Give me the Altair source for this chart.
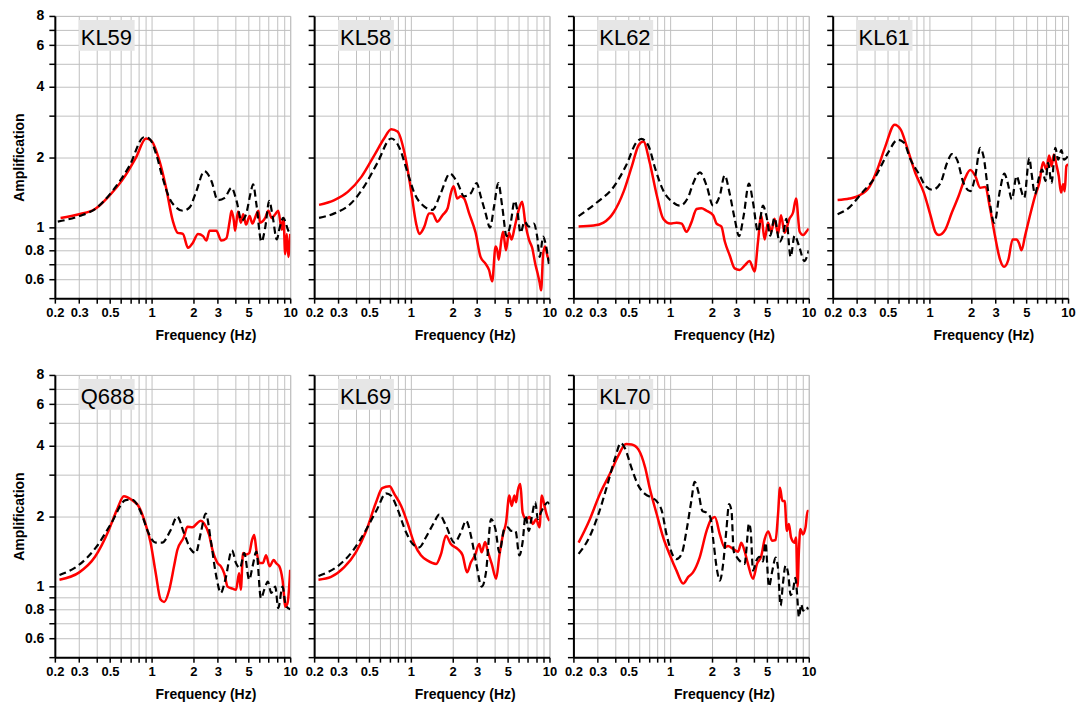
import json
import altair as alt
import pandas as pd

PANELS = ["KL59", "KL58", "KL62", "KL61", "Q688", "KL69", "KL70"]

# ---- KL59 ----
KL59_RED_F = [0.22, 0.30, 0.39, 0.49, 0.62, 0.77, 0.91, 1.0, 1.14, 1.27, 1.42, 1.54, 1.68, 1.83, 1.98,
              2.16, 2.35, 2.48, 2.62, 2.93, 3.18, 3.46, 3.66, 3.77, 3.92, 4.0, 4.2, 4.4, 4.58, 4.8,
              5.1, 5.33, 5.7, 5.9, 6.05, 6.6, 6.95, 7.35, 7.8, 8.2, 8.7, 8.95, 9.2, 9.45, 9.7, 10.0]
KL59_RED_A = [1.10, 1.14, 1.20, 1.36, 1.61, 1.99, 2.40, 2.34, 1.92, 1.48, 1.07, 0.95, 0.94, 0.82, 0.86,
              0.94, 0.92, 0.88, 0.97, 0.97, 0.88, 0.90, 1.07, 1.18, 1.07, 0.97, 1.17, 1.05, 1.14, 1.03,
              1.12, 1.04, 1.14, 1.18, 1.05, 1.10, 1.18, 1.10, 1.14, 1.18, 0.98, 1.10, 0.77, 0.94, 0.75, 0.94]
KL59_BLK_F = [0.21, 0.30, 0.39, 0.52, 0.69, 0.88, 0.96, 1.08, 1.20, 1.34, 1.50, 1.68, 1.88, 2.10, 2.40,
              2.70, 3.0, 3.37, 3.77, 4.1, 4.45, 4.8, 5.16, 5.4, 5.7, 6.2, 6.6, 7.06, 7.5, 8.0,
              8.4, 8.9, 9.7, 10.0]
KL59_BLK_A = [1.06, 1.12, 1.20, 1.43, 1.83, 2.43, 2.40, 2.05, 1.63, 1.34, 1.22, 1.18, 1.22, 1.43, 1.74,
              1.58, 1.31, 1.34, 1.48, 1.30, 1.07, 1.14, 1.39, 1.53, 1.26, 0.87, 1.0, 1.30, 1.10, 0.89,
              1.0, 1.10, 0.97, 0.94]

# ---- KL58 ----
KL58_RED_F = [0.217, 0.28, 0.35, 0.44, 0.545, 0.64, 0.72, 0.80, 0.90, 1.0, 1.09, 1.15, 1.25, 1.35, 1.43,
              1.55, 1.69, 1.84, 1.94, 2.03, 2.16, 2.29, 2.42, 2.63, 2.93, 3.18, 3.46, 3.66, 3.86, 4.08,
              4.2, 4.3, 4.5, 4.63, 4.85, 5.1, 5.33, 5.6, 6.0, 6.35, 6.7, 7.1, 7.5, 7.9, 8.2,
              8.5, 8.7, 9.0, 9.3, 9.7, 10.0]
KL58_RED_A = [1.25, 1.31, 1.42, 1.65, 2.04, 2.40, 2.63, 2.57, 2.07, 1.45, 1.04, 0.94, 1.01, 1.15, 1.15,
              1.06, 1.13, 1.21, 1.40, 1.50, 1.33, 1.36, 1.33, 1.15, 0.95, 0.75, 0.70, 0.66, 0.59, 0.83,
              0.80, 0.73, 0.89, 0.96, 0.80, 0.95, 0.89, 1.0, 1.19, 1.29, 1.04, 0.89, 0.82, 0.70, 0.64,
              0.58, 0.54, 0.77, 0.83, 0.75, 0.72]
KL58_BLK_F = [0.217, 0.28, 0.37, 0.46, 0.57, 0.72, 0.82, 0.95, 1.06, 1.25, 1.43, 1.64, 1.91, 2.17, 2.42,
              2.70, 2.98, 3.19, 3.46, 3.72, 3.98, 4.27, 4.56, 4.90, 5.24, 5.6, 5.85, 6.18, 6.61, 7.1,
              7.71, 8.15, 8.5, 9.0, 9.36, 9.9]
KL58_BLK_A = [1.10, 1.15, 1.27, 1.50, 1.88, 2.40, 2.21, 1.70, 1.40, 1.23, 1.19, 1.40, 1.70, 1.55, 1.36,
              1.40, 1.55, 1.36, 1.15, 1.0, 1.23, 1.55, 1.23, 0.92, 1.04, 1.30, 1.19, 0.95, 1.06, 1.01,
              1.04, 0.915, 0.75, 0.915, 0.857, 0.70]

# ---- KL62 ----
KL62_RED_F = [0.218, 0.28, 0.33, 0.39, 0.46, 0.53, 0.59, 0.64, 0.71, 0.80, 0.89, 1.0, 1.11, 1.21, 1.31,
              1.42, 1.55, 1.68, 1.83, 2.04, 2.16, 2.34, 2.48, 2.69, 2.92, 3.17, 3.45, 3.74, 4.06, 4.3,
              4.54, 4.8, 5.08, 5.36, 5.66, 6.0, 6.3, 6.7, 7.25, 7.7, 8.1, 8.6, 9.1, 9.6, 10.0]
KL62_RED_A = [1.01, 1.02, 1.05, 1.16, 1.42, 1.84, 2.24, 2.33, 1.90, 1.37, 1.09, 1.04, 1.05, 1.04, 0.96,
              1.05, 1.20, 1.21, 1.18, 1.13, 1.04, 1.01, 0.87, 0.76, 0.67, 0.66, 0.69, 0.72, 0.65, 0.87,
              1.13, 0.89, 1.05, 0.96, 1.09, 0.94, 1.13, 0.95, 1.09, 1.16, 1.33, 0.96, 0.93, 0.96, 0.99]
KL62_BLK_F = [0.218, 0.295, 0.39, 0.48, 0.57, 0.62, 0.695, 0.78, 0.89, 1.05, 1.17, 1.35, 1.46, 1.64, 1.83,
              2.04, 2.28, 2.47, 2.69, 2.92, 3.14, 3.39, 3.7, 3.96, 4.3, 4.67, 4.94, 5.27, 5.66, 6.16,
              6.58, 6.88, 7.4, 7.9, 8.49, 9.3, 10.0]
KL62_BLK_A = [1.12, 1.28, 1.49, 1.84, 2.31, 2.39, 2.24, 1.78, 1.44, 1.28, 1.24, 1.35, 1.54, 1.72, 1.51,
              1.24, 1.37, 1.67, 1.39, 1.09, 0.92, 1.125, 1.54, 1.28, 0.96, 1.24, 1.125, 0.924, 1.10, 0.87,
              0.955, 1.09, 0.75, 0.924, 0.838, 0.72, 0.80]

# ---- KL61 ----
KL61_RED_F = [0.217, 0.264, 0.31, 0.37, 0.42, 0.48, 0.56, 0.62, 0.69, 0.79, 0.91, 1.02, 1.10, 1.17, 1.30,
              1.45, 1.62, 1.81, 1.97, 2.14, 2.32, 2.52, 2.74, 2.97, 3.23, 3.45, 3.71, 3.98, 4.25, 4.42,
              4.62, 4.89, 5.3, 5.77, 6.2, 6.6, 6.99, 7.3, 7.6, 7.9, 8.25, 8.57, 8.9, 9.21, 9.46,
              9.73, 10.0]
KL61_RED_A = [1.31, 1.33, 1.37, 1.50, 1.77, 2.22, 2.75, 2.62, 2.19, 1.71, 1.41, 1.12, 0.96, 0.93, 0.98,
              1.16, 1.36, 1.63, 1.76, 1.66, 1.48, 1.49, 1.20, 0.92, 0.73, 0.68, 0.73, 0.89, 0.89, 0.86,
              0.80, 0.92, 1.12, 1.36, 1.55, 1.90, 1.77, 2.03, 1.83, 2.05, 1.85, 1.66, 1.41, 1.53, 1.43,
              1.83, 1.86]
KL61_BLK_F = [0.217, 0.264, 0.32, 0.41, 0.50, 0.59, 0.654, 0.73, 0.84, 0.94, 1.05, 1.2, 1.34, 1.45, 1.58,
              1.76, 1.97, 2.14, 2.32, 2.45, 2.66, 2.94, 3.23, 3.47, 3.67, 3.93, 4.25, 4.5, 4.83, 5.25,
              5.45, 5.77, 6.16, 6.5, 6.88, 7.18, 7.6, 8.1, 8.48, 8.95, 9.36, 10.0]
KL61_BLK_A = [1.14, 1.22, 1.39, 1.66, 2.08, 2.37, 2.30, 1.95, 1.69, 1.50, 1.45, 1.55, 1.89, 2.06, 1.95,
              1.55, 1.43, 1.66, 2.19, 2.02, 1.41, 1.05, 1.45, 1.70, 1.55, 1.32, 1.66, 1.50, 1.34, 1.98,
              1.71, 1.39, 1.63, 1.77, 1.58, 1.89, 1.55, 2.19, 1.95, 2.14, 1.95, 2.02]

# ---- Q688 ----
Q688_RED_F = [0.216, 0.30, 0.39, 0.49, 0.56, 0.63, 0.72, 0.81, 0.90, 0.98, 1.07, 1.16, 1.23, 1.34, 1.45,
              1.53, 1.71, 1.81, 1.97, 2.14, 2.26, 2.39, 2.6, 2.75, 2.99, 3.16, 3.34, 3.53, 3.84, 4.06,
              4.28, 4.4, 4.57, 4.8, 5.06, 5.3, 5.5, 5.7, 6.0, 6.35, 6.7, 7.1, 7.6, 7.9, 8.35,
              8.8, 9.25, 9.6, 10.0]
Q688_RED_A = [1.07, 1.15, 1.34, 1.74, 2.12, 2.43, 2.34, 2.19, 1.86, 1.55, 1.14, 0.88, 0.86, 0.97, 1.22,
              1.43, 1.63, 1.80, 1.79, 1.87, 1.91, 1.86, 1.66, 1.43, 1.26, 1.22, 1.14, 1.0, 0.98, 0.97,
              1.14, 0.97, 1.39, 1.37, 1.39, 1.58, 1.66, 1.43, 1.26, 1.26, 1.36, 1.22, 1.30, 1.26, 1.22,
              1.07, 0.82, 0.86, 1.18]
Q688_BLK_F = [0.216, 0.30, 0.40, 0.51, 0.65, 0.72, 0.86, 0.93, 1.07, 1.19, 1.37, 1.53, 1.71, 1.92, 2.08,
              2.26, 2.46, 2.67, 2.9, 3.16, 3.4, 3.8, 4.06, 4.34, 4.66, 5.06, 5.35, 5.7, 6.15, 6.5,
              6.9, 7.3, 7.8, 8.2, 8.8, 9.3, 10.0]
Q688_BLK_A = [1.12, 1.24, 1.48, 1.86, 2.34, 2.35, 1.99, 1.74, 1.54, 1.54, 1.74, 1.99, 1.69, 1.44, 1.39,
              1.69, 2.05, 1.58, 1.14, 0.94, 1.07, 1.43, 1.26, 1.20, 1.39, 1.07, 1.22, 1.41, 0.89, 0.97,
              1.05, 0.94, 1.0, 0.81, 1.0, 0.83, 0.80]

# ---- KL69 ----
KL69_RED_F = [0.215, 0.265, 0.33, 0.40, 0.47, 0.56, 0.62, 0.70, 0.76, 0.85, 0.95, 1.06, 1.18, 1.32, 1.52,
              1.65, 1.79, 1.94, 2.17, 2.36, 2.54, 2.71, 2.9, 3.11, 3.24, 3.43, 3.58, 3.83, 4.12, 4.35,
              4.6, 4.86, 5.13, 5.34, 5.58, 5.74, 5.9, 6.16, 6.4, 6.8, 7.17, 7.6, 8.0, 8.47, 8.8,
              9.2, 9.62, 10.0]
KL69_RED_A = [1.07, 1.10, 1.21, 1.40, 1.70, 2.29, 2.63, 2.68, 2.48, 2.21, 1.85, 1.52, 1.36, 1.29, 1.25,
              1.38, 1.65, 1.52, 1.45, 1.36, 1.15, 1.27, 1.36, 1.52, 1.40, 1.55, 1.42, 1.25, 1.08, 1.36,
              1.65, 1.88, 2.45, 2.21, 2.45, 2.29, 2.56, 2.74, 2.07, 1.94, 1.98, 1.85, 1.94, 1.79, 2.45,
              2.21, 2.0, 1.91]
KL69_BLK_F = [0.215, 0.30, 0.38, 0.47, 0.57, 0.66, 0.72, 0.80, 0.92, 1.03, 1.15, 1.28, 1.47, 1.60, 1.79,
              2.06, 2.30, 2.50, 2.71, 2.95, 3.24, 3.48, 3.79, 4.07, 4.35, 4.72, 5.0, 5.28, 5.68, 6.06,
              6.4, 6.72, 7.09, 7.4, 7.9, 8.24, 8.7, 9.2, 9.7, 10.0]
KL69_BLK_A = [1.11, 1.23, 1.42, 1.73, 2.14, 2.50, 2.44, 2.14, 1.71, 1.52, 1.47, 1.62, 1.88, 2.03, 1.82,
              1.54, 1.71, 1.91, 1.65, 1.27, 1.0, 1.15, 1.94, 1.76, 1.40, 1.76, 1.79, 1.73, 1.73, 1.36,
              1.55, 2.01, 1.73, 1.94, 2.29, 1.94, 2.08, 2.21, 2.29, 2.25]

# ---- KL70 ----
KL70_RED_F = [0.218, 0.26, 0.31, 0.37, 0.42, 0.48, 0.527, 0.59, 0.66, 0.71, 0.80, 0.89, 0.99, 1.11, 1.24,
              1.35, 1.46, 1.63, 1.83, 1.98, 2.10, 2.28, 2.47, 2.61, 2.84, 3.09, 3.26, 3.44, 3.64, 3.96,
              4.23, 4.54, 4.8, 5.1, 5.43, 5.76, 6.0, 6.2, 6.45, 6.7, 6.95, 7.19, 7.45, 7.9, 8.1,
              8.3, 8.49, 8.7, 9.07, 9.48, 9.8, 10.0]
KL70_RED_A = [1.54, 1.91, 2.48, 3.06, 3.6, 4.06, 4.04, 3.84, 3.21, 2.64, 2.03, 1.62, 1.37, 1.17, 1.03,
              1.10, 1.15, 1.33, 1.73, 1.94, 1.98, 1.67, 1.47, 1.49, 1.45, 1.41, 1.54, 1.42, 1.25, 1.08,
              1.25, 1.35, 1.59, 1.72, 1.57, 1.58, 2.03, 2.64, 2.32, 2.32, 1.73, 1.85, 1.62, 1.54, 1.62,
              1.0, 1.42, 1.76, 1.67, 1.79, 2.1, 2.1]
KL70_BLK_F = [0.218, 0.26, 0.30, 0.35, 0.40, 0.44, 0.47, 0.53, 0.59, 0.66, 0.73, 0.80, 0.87, 0.94, 1.05,
              1.11, 1.21, 1.31, 1.42, 1.50, 1.59, 1.71, 1.83, 1.95, 2.06, 2.18, 2.28, 2.41, 2.54, 2.66,
              2.77, 2.87, 3.04, 3.26, 3.45, 3.54, 3.7, 3.81, 3.96, 4.18, 4.4, 4.67, 4.87, 5.16, 5.46,
              5.76, 5.99, 6.26, 6.51, 6.8, 7.11, 7.4, 7.69, 8.0, 8.2, 8.5, 8.82, 9.1, 9.48, 10.0]
KL70_BLK_A = [1.38, 1.62, 2.0, 2.69, 3.54, 4.1, 3.9, 3.16, 2.69, 2.48, 2.40, 2.31, 2.10, 1.67, 1.35,
              1.31, 1.38, 1.73, 2.32, 2.80, 2.56, 2.10, 2.07, 1.97, 1.52, 1.17, 1.06, 1.25, 1.73, 2.25,
              2.10, 1.42, 1.33, 1.27, 1.25, 1.42, 1.86, 1.73, 1.17, 1.29, 1.34, 1.28, 1.54, 1.0, 1.17,
              1.33, 1.21, 0.83, 1.03, 1.23, 1.13, 0.92, 0.96, 1.09, 0.96, 0.74, 0.84, 0.79, 0.817, 0.80]

CURVES = {
    "KL59": (KL59_RED_F, KL59_RED_A, KL59_BLK_F, KL59_BLK_A),
    "KL58": (KL58_RED_F, KL58_RED_A, KL58_BLK_F, KL58_BLK_A),
    "KL62": (KL62_RED_F, KL62_RED_A, KL62_BLK_F, KL62_BLK_A),
    "KL61": (KL61_RED_F, KL61_RED_A, KL61_BLK_F, KL61_BLK_A),
    "Q688": (Q688_RED_F, Q688_RED_A, Q688_BLK_F, Q688_BLK_A),
    "KL69": (KL69_RED_F, KL69_RED_A, KL69_BLK_F, KL69_BLK_A),
    "KL70": (KL70_RED_F, KL70_RED_A, KL70_BLK_F, KL70_BLK_A),
}

X_TICKS = [0.2, 0.3, 0.4, 0.5, 0.6, 0.7, 0.8, 0.9, 1, 2, 3, 4, 5, 6, 7, 8, 9, 10]
X_LABELS = [0.2, 0.3, 0.5, 1, 2, 3, 5, 10]
Y_TICKS = [0.5, 0.6, 0.7, 0.8, 0.9, 1, 2, 3, 4, 5, 6, 7, 8]
Y_LABELS = [0.6, 0.8, 1, 2, 4, 6, 8]

rows = []
for name in PANELS:
    rf, ra, bf, ba = CURVES[name]
    if len(rf) != len(ra) or len(bf) != len(ba):
        raise ValueError("length mismatch in " + name)
    for f, a in zip(rf, ra):
        rows.append({"panel": name, "series": "red", "f": f, "amp": a})
    for f, a in zip(bf, ba):
        rows.append({"panel": name, "series": "black", "f": f, "amp": a})
df = pd.DataFrame(rows)

W, H = 236, 283
x_expr = "indexof(%s, datum.value) >= 0 ? format(datum.value, '~g') : ''" % json.dumps(X_LABELS)
y_expr = "indexof(%s, datum.value) >= 0 ? format(datum.value, '~g') : ''" % json.dumps(Y_LABELS)
FONT = "Liberation Sans"


def make_panel(name, first_col):
    sub = df[df.panel == name]
    x = alt.X("f:Q", scale=alt.Scale(type="log", domain=[0.2, 10]),
              axis=alt.Axis(values=X_TICKS, labelExpr=x_expr, labelFlush=False, labelOverlap=False,
                            tickSize=5, labelPadding=3, labelFontSize=13,
                            title="Frequency (Hz)", titleX=151, titleY=41,
                            titleBaseline="alphabetic", titleAlign="center"))
    if first_col:
        yaxis = alt.Axis(values=Y_TICKS, labelExpr=y_expr, labelOverlap=False, tickSize=6, labelPadding=5,
                         labelFontSize=14,
                         title="Amplification", titleX=-31, titleY=H / 2, titleAngle=270,
                         titleBaseline="alphabetic", titleAlign="center")
    else:
        yaxis = alt.Axis(values=Y_TICKS, labels=False, tickSize=6, title="")
    y = alt.Y("amp:Q", scale=alt.Scale(type="log", domain=[0.5, 8]), axis=yaxis)

    red = alt.Chart(sub[sub.series == "red"]).mark_line(
        color="#ff0000", strokeWidth=2.5, interpolate="monotone", clip=True).encode(x=x, y=y)
    blk = alt.Chart(sub[sub.series == "black"]).mark_line(
        color="#000000", strokeWidth=2.2, strokeDash=[7, 4], interpolate="monotone", clip=True).encode(x=x, y=y)
    lab = pd.DataFrame({"name": [name]})
    box = alt.Chart(lab).mark_rect(color="#e6e6e6").encode(
        x=alt.value(24), x2=alt.value(80), y=alt.value(4), y2=alt.value(35))
    txt = alt.Chart(lab).mark_text(align="left", baseline="alphabetic", fontSize=22, font=FONT,
                                   color="#000000").encode(x=alt.value(26), y=alt.value(29), text="name:N")
    return alt.layer(red, blk, box, txt).properties(width=W, height=H)


panels = [make_panel(n, i in (0, 4)) for i, n in enumerate(PANELS)]

chart = alt.concat(*panels, columns=4, spacing={"row": 77, "column": 24}, bounds="flush").properties(
    padding={"left": 12, "top": 7, "right": 5, "bottom": 5}
).configure_axis(
    labelFont=FONT, labelFontWeight="bold", labelColor="#000000",
    titleFont=FONT, titleFontSize=14, titleFontWeight="bold", titleColor="#000000",
    domainColor="#000000", domainWidth=2, tickColor="#000000", tickWidth=1.5,
    gridColor="#c0c0c0", gridWidth=1,
).configure_view(stroke="#c0c0c0")

chart.save("out.html", embed_options={"renderer": "svg", "actions": False})
